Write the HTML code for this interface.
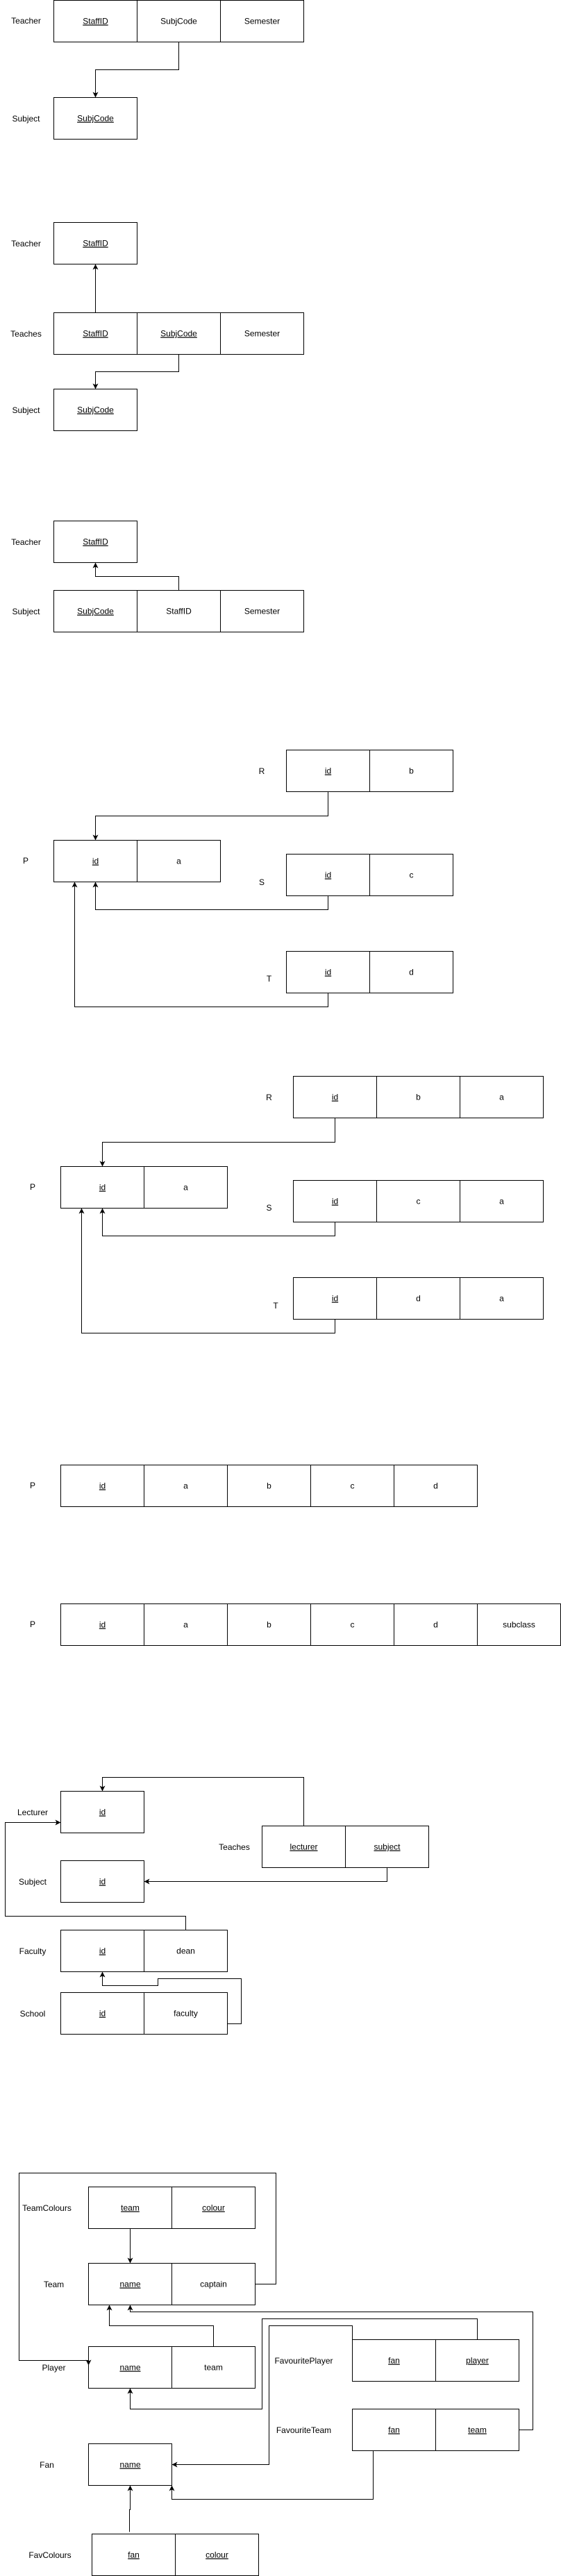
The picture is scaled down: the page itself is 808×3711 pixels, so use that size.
<!DOCTYPE html>
<html><head><meta charset="utf-8">
<style>
html,body{margin:0;padding:0;background:#fff;}
svg{display:block;}
text{font-family:"Liberation Sans",Arial,sans-serif;font-size:12px;fill:#000;}
</style></head>
<body>
<svg id="d" xmlns="http://www.w3.org/2000/svg" width="808" height="3711" viewBox="0 0 808 3711">
<defs>
<marker id="ah" markerUnits="userSpaceOnUse" markerWidth="10" markerHeight="10" refX="8" refY="4" orient="auto">
<path d="M0,0 L8,4 L0,8 L2,4 Z" fill="#000"/>
</marker>
</defs>
<g id="tables"></g>
<g id="edges"></g>
</svg>
<script>
// tables: [id, label, labelX, labelY, x, y, cells]
var tables = [
 ["s1-teacher","Teacher",37.5,30,77.5,0.5,[["StaffID",1],["SubjCode",0],["Semester",0]]],
 ["s1-subject","Subject",37.5,171,77.5,140.5,[["SubjCode",1]]],
 ["s2-teacher","Teacher",37.5,351,77.5,320.5,[["StaffID",1]]],
 ["s2-teaches","Teaches",37.5,481,77.5,450.5,[["StaffID",1],["SubjCode",1],["Semester",0]]],
 ["s2-subject","Subject",37.5,591,77.5,560.5,[["SubjCode",1]]],
 ["s3-teacher","Teacher",37.5,781,77.5,750.5,[["StaffID",1]]],
 ["s3-subject","Subject",37.5,881,77.5,850.5,[["SubjCode",1],["StaffID",0],["Semester",0]]],
 ["s4-r","R",377,1111,412.5,1080.5,[["id",1],["b",0]]],
 ["s4-p","P",37,1240,77.5,1210.5,[["id",1],["a",0]]],
 ["s4-s","S",377,1271,412.5,1230.5,[["id",1],["c",0]]],
 ["s4-t","T",387.5,1410,412.5,1370.5,[["id",1],["d",0]]],
 ["s5-r","R",387.5,1581,422.5,1550.5,[["id",1],["b",0],["a",0]]],
 ["s5-p","P",47,1710,87.5,1680.5,[["id",1],["a",0]]],
 ["s5-s","S",387.5,1740,422.5,1700.5,[["id",1],["c",0],["a",0]]],
 ["s5-t","T",397,1881,422.5,1840.5,[["id",1],["d",0],["a",0]]],
 ["s6-p","P",47,2140,87.5,2110.5,[["id",1],["a",0],["b",0],["c",0],["d",0]]],
 ["s7-p","P",47,2340,87.5,2310.5,[["id",1],["a",0],["b",0],["c",0],["d",0],["subclass",0]]],
 ["s8-lecturer","Lecturer",47,2611,87.5,2580.5,[["id",1]]],
 ["s8-teaches","Teaches",337.5,2661,377.5,2630.5,[["lecturer",1],["subject",1]]],
 ["s8-subject","Subject",47,2711,87.5,2680.5,[["id",1]]],
 ["s8-faculty","Faculty",47,2811,87.5,2780.5,[["id",1],["dean",0]]],
 ["s8-school","School",47,2901,87.5,2870.5,[["id",1],["faculty",0]]],
 ["s9-teamcolours","TeamColours",67.5,3181,127.5,3150.5,[["team",1],["colour",1]]],
 ["s9-team","Team",77.5,3291,127.5,3260.5,[["name",1],["captain",0]]],
 ["s9-player","Player",77.5,3411,127.5,3380.5,[["name",1],["team",0]]],
 ["s9-favouriteplayer","FavouritePlayer",437.5,3401,507.5,3370.5,[["fan",1],["player",1]]],
 ["s9-favouriteteam","FavouriteTeam",437.5,3501,507.5,3470.5,[["fan",1],["team",1]]],
 ["s9-fan","Fan",67.5,3551,127.5,3520.5,[["name",1]]],
 ["s9-favcolours","FavColours",72,3681,132.5,3650.5,[["fan",1],["colour",1]]]
];
// edges: [id, points "x,y ...", arrow]
var edges = [
 ["s1-subjcode-fk","257.5,60.5 257.5,100.5 137.5,100.5 137.5,140.5",1],
 ["s2-staffid-fk","137.5,450.5 137.5,380.5",1],
 ["s2-subjcode-fk","257.5,510.5 257.5,535.5 137.5,535.5 137.5,560.5",1],
 ["s3-staffid-fk","257.5,850.5 257.5,830.5 137.5,830.5 137.5,810.5",1],
 ["s4-r-fk","472.5,1140.5 472.5,1175.5 137.5,1175.5 137.5,1210.5",1],
 ["s4-s-fk","472.5,1290.5 472.5,1310.5 137.5,1310.5 137.5,1270.5",1],
 ["s4-t-fk","472.5,1430.5 472.5,1450.5 107.5,1450.5 107.5,1270.5",1],
 ["s5-r-fk","482.5,1610.5 482.5,1645.5 147.5,1645.5 147.5,1680.5",1],
 ["s5-s-fk","482.5,1760.5 482.5,1780.5 147.5,1780.5 147.5,1740.5",1],
 ["s5-t-fk","482.5,1900.5 482.5,1920.5 117.5,1920.5 117.5,1740.5",1],
 ["s8-lecturer-fk","437.5,2630.5 437.5,2560.5 147.5,2560.5 147.5,2580.5",1],
 ["s8-subject-fk","557.5,2690.5 557.5,2710.5 207.5,2710.5",1],
 ["s8-dean-fk","267.5,2780.5 267.5,2760.5 7.5,2760.5 7.5,2625.5 87.5,2625.5",1],
 ["s8-faculty-fk","327.5,2915.5 347.5,2915.5 347.5,2850.5 227.5,2850.5 227.5,2860.5 147.5,2860.5 147.5,2840.5",1],
 ["s9-teamcolours-fk","187.5,3210.5 187.5,3260.5",1],
 ["s9-captain-fk","367.5,3290.5 397.5,3290.5 397.5,3130.5 27.5,3130.5 27.5,3400.5 127.5,3400.5",0],
 ["s9-captain-head","127.5,3398.5 127.5,3407.5",1],
 ["s9-player-team-fk","307.5,3380.5 307.5,3350.5 157.5,3350.5 157.5,3320.5",1],
 ["s9-favteam-team-fk","747.5,3500.5 767.5,3500.5 767.5,3330.5 187.5,3330.5 187.5,3320.5",1],
 ["s9-favplayer-player-fk","687.5,3370.5 687.5,3340.5 377.5,3340.5 377.5,3470.5 187.5,3470.5 187.5,3440.5",1],
 ["s9-favplayer-fan-fk","507.5,3370.5 507.5,3350.5 387.5,3350.5 387.5,3550.5 247.5,3550.5",1],
 ["s9-favteam-fan-fk","537.5,3530.5 537.5,3600.5 247.5,3600.5 247.5,3580.5",1],
 ["s9-favcolours-fan-fk","186.5,3647.5 186.5,3615.5 187.5,3615.5 187.5,3580.5",1]
];
var NS="http://www.w3.org/2000/svg";
var tg=document.getElementById("tables");
var eg=document.getElementById("edges");
tables.forEach(function(t){
  var g=document.createElementNS(NS,"g");
  
  
  var lb=document.createElementNS(NS,"text");
  lb.setAttribute("x",t[2]);lb.setAttribute("y",t[3]+4);lb.setAttribute("text-anchor","middle");
  lb.textContent=t[1];
  
  
  g.appendChild(lb);
  t[6].forEach(function(c,i){
    var x=t[4]+i*120;
    var r=document.createElementNS(NS,"rect");
    r.setAttribute("x",x);r.setAttribute("y",t[5]);r.setAttribute("width",120);r.setAttribute("height",60);
    r.setAttribute("fill","#fff");r.setAttribute("stroke","#000");r.setAttribute("stroke-width","1");
    
    
    g.appendChild(r);
    var tx=document.createElementNS(NS,"text");
    tx.setAttribute("x",x+60);tx.setAttribute("y",t[5]+34);tx.setAttribute("text-anchor","middle");
    if(c[1]) tx.setAttribute("text-decoration","underline");
    tx.textContent=c[0];
    
    
    g.appendChild(tx);
  });
  tg.appendChild(g);
});
edges.forEach(function(e){
  var p=document.createElementNS(NS,"polyline");
  p.setAttribute("points",e[1]);p.setAttribute("fill","none");p.setAttribute("stroke","#000");p.setAttribute("stroke-width","1");
  if(e[2]) p.setAttribute("marker-end","url(#ah)");
  
  
  eg.appendChild(p);
});
</script>
</body></html>
